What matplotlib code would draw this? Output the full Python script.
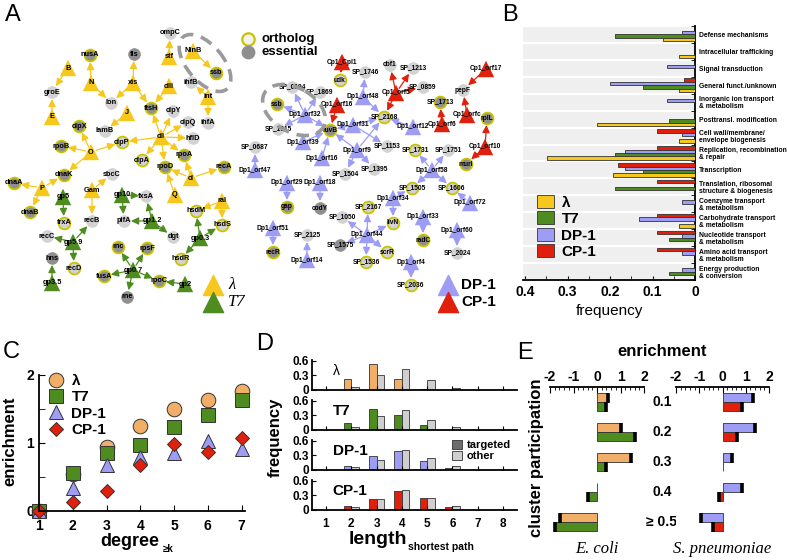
import matplotlib
matplotlib.use('Agg')
import matplotlib.pyplot as plt
from matplotlib.patches import Ellipse, Patch
from matplotlib.ticker import MultipleLocator
from matplotlib.transforms import blended_transform_factory
import numpy as np

plt.rcParams['font.family'] = ['Liberation Sans', 'DejaVu Sans']
plt.rcParams['font.weight'] = 'bold'
plt.rcParams['axes.linewidth'] = 1.3
plt.rcParams['axes.unicode_minus'] = False

W, H = 787, 560
fig = plt.figure(figsize=(7.87, 5.60), dpi=100)


def px_axes(l, t, r, b):
    # axes placed by pixel box of the reference
    return fig.add_axes([l / W, 1 - b / H, (r - l) / W, (b - t) / H])


YEL = '#f6c81e'
GRN = '#4f8c1f'
BLU = '#9d9df5'
RED = '#e0200c'
ORA = '#f0ae68'
LGRAY = '#d2d2d2'
DGRAY = '#8f8f8f'
RIM = '#c9c400'

# ---------------- panel A : interaction networks ----------------
# node: name, x, y, kind  (lam/t7/dp1/cp1 = phage protein, L/D = light/dark host protein, R = ortholog rim)
ecoli_nodes = [
    ('B', 68, 68, 'lam'), ('N', 91, 83, 'lam'), ('xis', 133, 83, 'lam'), ('stf', 169, 57, 'lam'),
    ('NinB', 193, 51, 'lam'), ('cIII', 169, 86, 'lam'), ('int', 208, 97, 'lam'), ('E', 52, 117, 'lam'),
    ('J', 127, 113, 'lam'), ('cII', 161, 137, 'lam'), ('O', 91, 152, 'lam'), ('cI', 191, 178, 'lam'),
    ('Q', 175, 195, 'lam'), ('P', 42, 188, 'lam'), ('Gam', 92, 190, 'lam'), ('ral', 222, 201, 'lam'),
    ('gp5', 63, 197, 't7'), ('gp5.9', 73, 242, 't7'), ('gp3.5', 52, 283, 't7'), ('gp10', 122, 195, 't7'),
    ('gp1.2', 152, 221, 't7'), ('gp0.7', 133, 270, 't7'), ('gp2', 185, 284, 't7'), ('gp0.3', 200, 238, 't7'),
    ('ompC', 170, 33, 'L'), ('fis', 134, 54, 'D'), ('nusA', 90, 55, 'DR'), ('ssb', 216, 73, 'DR'),
    ('groE', 52, 92, 'L'), ('lon', 111, 103, 'L'), ('ihfB', 191, 82, 'L'), ('ftsH', 151, 108, 'DR'),
    ('clpY', 173, 111, 'L'), ('clpQ', 188, 122, 'L'), ('ihfA', 208, 123, 'L'), ('hflD', 193, 138, 'L'),
    ('lamB', 105, 131, 'L'), ('clpX', 79, 126, 'DR'), ('rpoB', 61, 146, 'DR'), ('clpP', 122, 142, 'LR'),
    ('clpA', 142, 160, 'LR'), ('rpoA', 184, 155, 'DR'), ('rpoD', 165, 167, 'DR'), ('recA', 224, 167, 'DR'),
    ('dnaA', 14, 183, 'DR'), ('dnaK', 64, 175, 'DR'), ('dnaB', 30, 212, 'DR'), ('sbcC', 112, 174, 'L'),
    ('recB', 92, 221, 'L'), ('trxA', 64, 223, 'LR'), ('recC', 47, 236, 'L'), ('recD', 74, 268, 'LR'),
    ('hns', 52, 258, 'D'), ('fxsA', 146, 196, 'L'), ('pifA', 124, 221, 'L'), ('dgt', 173, 237, 'L'),
    ('hsdM', 196, 211, 'LR'), ('hsdS', 222, 225, 'LR'), ('hsdR', 181, 259, 'LR'), ('rnc', 118, 247, 'DR'),
    ('rpsF', 147, 248, 'DR'), ('fusA', 104, 276, 'DR'), ('rpoC', 159, 281, 'DR'), ('rne', 127, 297, 'D'),
]
ecoli_edges = [
    ('stf', 'ompC'), ('xis', 'fis'), ('N', 'nusA'), ('NinB', 'ssb'), ('B', 'groE'), ('E', 'groE'),
    ('N', 'lon'), ('xis', 'lon'), ('xis', 'ftsH'), ('cIII', 'ftsH'), ('cII', 'ftsH'), ('int', 'ihfB'),
    ('int', 'ihfA'), ('J', 'lamB'), ('cII', 'clpY'), ('cII', 'clpQ'), ('cII', 'hflD'), ('cII', 'clpP'),
    ('cII', 'clpA'), ('cII', 'rpoD'), ('cII', 'rpoA'), ('O', 'clpX'), ('O', 'rpoB'), ('O', 'clpP'),
    ('O', 'dnaK'), ('cI', 'rpoA'), ('cI', 'rpoD'), ('cI', 'recA'), ('Q', 'rpoD'), ('P', 'dnaK'),
    ('P', 'dnaA'), ('P', 'dnaB'), ('Gam', 'sbcC'), ('Gam', 'recB'), ('gp5', 'trxA'), ('gp5.9', 'recB'),
    ('gp5.9', 'recC'), ('gp5.9', 'recD'), ('gp3.5', 'hns'), ('gp10', 'fxsA'), ('gp10', 'pifA'),
    ('gp1.2', 'pifA'), ('gp1.2', 'fxsA'), ('gp1.2', 'dgt'), ('gp0.3', 'hsdM'), ('gp0.3', 'hsdR'),
    ('gp0.3', 'hsdS'), ('ral', 'hsdM'), ('ral', 'hsdS'), ('gp0.7', 'rnc'), ('gp0.7', 'rpsF'),
    ('gp0.7', 'fusA'), ('gp0.7', 'rpoC'), ('gp0.7', 'rne'), ('gp2', 'rpoC'),
]
spn_nodes = [
    ('Cp1_Cpl1', 342, 62, 'cp1'), ('udk', 340, 80, 'LR'), ('SP_1746', 365, 72, 'L'), ('Dp1_orf48', 363, 97, 'dp1'),
    ('SP_0194', 292, 87, 'L'), ('SP_1869', 320, 92, 'L'), ('ssb', 277, 104, 'DR'), ('Dp1_orf32', 305, 115, 'dp1'),
    ('SP_1915', 278, 129, 'L'), ('Cp1_orf16', 337, 105, 'cp1'), ('ruvB', 330, 130, 'DR'), ('Dp1_orf31', 353, 125, 'dp1'),
    ('SP_2168', 384, 117, 'LR'), ('Dp1_orf39', 303, 142, 'dp1'), ('Dp1_orf16', 322, 158, 'dp1'), ('Dp1_orf9', 357, 150, 'dp1'),
    ('SP_1153', 387, 146, 'L'), ('SP_0687', 255, 147, 'L'), ('Dp1_orf47', 255, 170, 'dp1'), ('SP_1504', 345, 174, 'L'),
    ('SP_1395', 374, 169, 'L'), ('cbf1', 390, 65, 'L'), ('SP_1213', 413, 68, 'L'), ('Cp1_orf5', 396, 93, 'cp1'),
    ('SP_0859', 423, 87, 'L'), ('Cp1_orf17', 486, 69, 'cp1'), ('pepF', 463, 90, 'L'), ('SP_1713', 440, 102, 'DR'),
    ('Cp1_orf6', 442, 124, 'cp1'), ('Cp1_orfc', 467, 115, 'cp1'), ('rplL', 487, 118, 'DR'), ('Cp1_orf10', 485, 147, 'cp1'),
    ('murI', 466, 164, 'DR'), ('Dp1_orf12', 413, 127, 'dp1'), ('SP_1731', 415, 150, 'LR'), ('SP_1751', 448, 150, 'L'),
    ('Dp1_orf58', 432, 170, 'dp1'), ('SP_1505', 412, 188, 'LR'), ('SP_1606', 452, 188, 'LR'), ('Dp1_orf72', 470, 203, 'dp1'),
    ('Dp1_orf29', 287, 183, 'dp1'), ('gap', 287, 207, 'DR'), ('Dp1_orf18', 320, 183, 'dp1'), ('codY', 320, 208, 'D'),
    ('Dp1_orf34', 393, 198, 'dp1'), ('SP_2167', 368, 207, 'LR'), ('livN', 393, 223, 'LR'), ('SP_1050', 342, 217, 'L'),
    ('Dp1_orf44', 367, 235, 'dp1'), ('SP_1575', 340, 245, 'D'), ('SP_1536', 366, 262, 'LR'), ('scrR', 387, 252, 'LR'),
    ('Dp1_orf33', 423, 217, 'dp1'), ('radC', 423, 240, 'DR'), ('Dp1_orf60', 457, 230, 'dp1'), ('SP_2024', 457, 253, 'L'),
    ('Dp1_orf4', 411, 262, 'dp1'), ('SP_2036', 411, 285, 'LR'), ('Dp1_orf51', 273, 228, 'dp1'), ('recR', 273, 252, 'DR'),
    ('SP_2125', 307, 235, 'L'), ('Dp1_orf14', 307, 260, 'dp1'),
]
spn_edges = [
    ('Cp1_Cpl1', 'udk'), ('Dp1_orf48', 'SP_1746'), ('Dp1_orf48', 'SP_2168'), ('Dp1_orf32', 'SP_0194'),
    ('Dp1_orf32', 'SP_1869'), ('Dp1_orf32', 'ssb'), ('Dp1_orf32', 'SP_1915'), ('Dp1_orf32', 'ruvB'),
    ('Cp1_orf16', 'ruvB'), ('Dp1_orf31', 'SP_2168'), ('Dp1_orf31', 'SP_1153'), ('Dp1_orf31', 'ruvB'),
    ('Dp1_orf39', 'ruvB'), ('Dp1_orf16', 'ruvB'), ('Dp1_orf9', 'ruvB'), ('Dp1_orf9', 'SP_2168'),
    ('Dp1_orf9', 'SP_1504'), ('Dp1_orf9', 'SP_1395'), ('Cp1_orf5', 'cbf1'), ('Cp1_orf5', 'SP_1213'),
    ('Cp1_orf5', 'SP_0859'), ('Cp1_orf5', 'SP_2168'), ('Cp1_orf17', 'pepF'), ('Cp1_orfc', 'pepF'),
    ('Cp1_orf6', 'SP_1713'), ('Cp1_orf10', 'rplL'), ('Cp1_orf10', 'murI'), ('Dp1_orf12', 'SP_2168'),
    ('Dp1_orf47', 'SP_0687'), ('Dp1_orf29', 'gap'), ('Dp1_orf18', 'codY'), ('Dp1_orf58', 'SP_1731'),
    ('Dp1_orf58', 'SP_1751'), ('Dp1_orf58', 'SP_1505'), ('Dp1_orf58', 'SP_1606'), ('Dp1_orf72', 'SP_1606'),
    ('Dp1_orf34', 'SP_1505'), ('Dp1_orf34', 'livN'), ('Dp1_orf44', 'SP_2167'), ('Dp1_orf44', 'livN'),
    ('Dp1_orf44', 'SP_1050'), ('Dp1_orf44', 'SP_1575'), ('Dp1_orf44', 'SP_1536'), ('Dp1_orf44', 'scrR'),
    ('Dp1_orf33', 'radC'), ('Dp1_orf60', 'SP_2024'), ('Dp1_orf4', 'SP_2036'), ('Dp1_orf51', 'recR'),
    ('Dp1_orf14', 'SP_2125'),
]
tri_col = {'lam': YEL, 't7': GRN, 'dp1': BLU, 'cp1': RED}

axA = px_axes(0, 0, 525, 310)
axA.set_xlim(0, 525)
axA.set_ylim(310, 0)
axA.axis('off')


def draw_net(nodes, edges, lab_size):
    pos = {n[0]: (n[1], n[2]) for n in nodes}
    kind = {n[0]: n[3] for n in nodes}
    for s, t in edges:
        axA.annotate('', xy=pos[t], xytext=pos[s], zorder=1,
                     arrowprops=dict(arrowstyle='-|>,head_length=0.45,head_width=0.22',
                                     color=tri_col[kind[s]], lw=0.9, shrinkA=4, shrinkB=5))
    for name, x, y, k in nodes:
        if k in tri_col:
            axA.scatter(x, y, marker='^', s=140, c=tri_col[k], edgecolors='none', zorder=2)
        else:
            fill = DGRAY if k.startswith('D') else LGRAY
            rim = k.endswith('R')
            axA.scatter(x, y, s=72, c=fill, edgecolors=RIM if rim else fill,
                        linewidths=1.3 if rim else 0.5, zorder=3)
        axA.text(x, y, name, fontsize=lab_size, ha='center', va='center', zorder=4)


draw_net(ecoli_nodes, ecoli_edges, 5.3)
draw_net(spn_nodes, spn_edges, 4.8)

for cx, cy, w, h, ang in [(205, 63, 68, 36, 50), (294, 110, 68, 44, 30)]:
    axA.add_patch(Ellipse((cx, cy), w, h, angle=ang, fill=False, ec='#9a9a9a', lw=2.6,
                          ls=(0, (3.5, 2.2)), zorder=5))

# legends of panel A
axA.scatter([248], [39], s=80, c='#f2f2f2', edgecolors=RIM, linewidths=1.6, clip_on=False)
axA.scatter([248], [52], s=80, c=DGRAY, edgecolors=DGRAY, clip_on=False)
axA.text(261, 39, 'ortholog', fontsize=9.5, va='center')
axA.text(261, 52, 'essential', fontsize=9.5, va='center')
for yy, col, lab in [(285, YEL, 'λ'), (302, GRN, 'T7')]:
    axA.scatter([213], [yy], marker='^', s=210, c=col, clip_on=False)
    axA.text(228, yy, lab, fontsize=12, family='Liberation Serif', style='italic',
             fontweight='normal', va='center')
for yy, col, lab in [(285, BLU, 'DP-1'), (302, RED, 'CP-1')]:
    axA.scatter([448], [yy], marker='^', s=210, c=col, clip_on=False)
    axA.text(461, yy, lab, fontsize=11, va='center')

# ---------------- panel B : functional categories ----------------
cog_labels = ['Defense mechanisms', 'Intracellular trafficking', 'Signal transduction',
              'General funct./unknown', 'Inorganic ion transport\n& metabolism',
              'Posttransl. modification', 'Cell wall/membrane/\nenvelope biogenesis',
              'Replication, recombination\n& repair', 'Transcription',
              'Translation, ribosomal\nstructure & biogenesis', 'Coenzyme transport\n& metabolism',
              'Carbohydrate transport\n& metabolism', 'Nucleotide transport\n& metabolism',
              'Amino acid transport\n& metabolism', 'Energy production\n& conversion']
cog_lam = [0.076, 0.037, 0, 0.037, 0, 0.23, 0.037, 0.348, 0.193, 0, 0, 0.037, 0, 0, 0]
cog_t7 = [0.1875, 0, 0, 0.123, 0, 0.062, 0, 0.1875, 0.123, 0.1875, 0, 0, 0.062, 0, 0.062]
cog_dp1 = [0.031, 0, 0.065, 0.20, 0.065, 0, 0.031, 0.166, 0.166, 0, 0.031, 0.133, 0.031, 0.031, 0.031]
cog_cp1 = [0, 0, 0, 0.026, 0, 0, 0.09, 0.09, 0.181, 0.09, 0, 0.09, 0.09, 0.09, 0]

axB = px_axes(523, 26, 695, 280)
yc = np.arange(len(cog_labels))
for vals, off, col, lab in [(cog_cp1, -0.3, RED, 'CP-1'), (cog_dp1, -0.1, BLU, 'DP-1'),
                            (cog_t7, 0.1, GRN, 'T7'), (cog_lam, 0.3, YEL, 'λ')]:
    axB.barh(yc + off, vals, height=0.2, color=col, edgecolor='#333333', lw=0.6, label=lab, zorder=3)
axB.set_facecolor('#efefef')
axB.set_ylim(len(cog_labels) - 0.5, -0.5)
axB.set_xlim(0.405, 0)
axB.yaxis.tick_right()
axB.set_yticks(yc)
axB.set_yticklabels(cog_labels, fontsize=4.9, linespacing=1.0)
axB.set_yticks(np.arange(-0.5, len(cog_labels)), minor=True)
axB.grid(which='minor', axis='y', color='white', lw=1.6)
axB.tick_params(axis='y', which='major', length=0, pad=3)
axB.tick_params(axis='y', which='minor', length=3, direction='in', right=True, left=False)
axB.set_xticks([0, 0.1, 0.2, 0.3, 0.4])
axB.set_xticklabels(['0', '0.1', '0.2', '0.3', '0.4'], fontsize=10)
axB.xaxis.set_minor_locator(MultipleLocator(0.05))
axB.tick_params(axis='x', which='both', direction='in', length=3)
for s in ['top', 'left']:
    axB.spines[s].set_visible(False)
axB.set_xlabel('frequency', fontsize=11, labelpad=4)
hB, lB = axB.get_legend_handles_labels()
axB.legend(hB[::-1], lB[::-1], loc='upper left', bbox_to_anchor=(537 / W, 1 - 195 / H),
           bbox_transform=fig.transFigure, frameon=False, fontsize=11, handlelength=1.1,
           handleheight=0.9, labelspacing=0.12, handletextpad=0.5, borderpad=0, borderaxespad=0)

# ---------------- panel C : enrichment vs degree ----------------
degree = [1, 2, 3, 4, 5, 6, 7]
enr_lam = [0, 0.55, 0.94, 1.245, 1.505, 1.637, 1.765]
enr_t7 = [0, 0.56, 0.86, 0.966, 1.235, 1.417, 1.627]
enr_dp1 = [0, 0.343, 0.67, 0.79, 0.853, 1.03, 0.907]
enr_cp1 = [0, 0.13, 0.30, 0.67, 0.98, 0.87, 1.07]

axC = px_axes(39, 375, 245, 511)
for vals, mk, ms, col, lab in [(enr_lam, 'o', 10.5, ORA, 'λ'), (enr_t7, 's', 9.5, GRN, 'T7'),
                               (enr_dp1, '^', 10.5, BLU, 'DP-1'), (enr_cp1, 'D', 7.5, RED, 'CP-1')]:
    axC.plot(degree, vals, ls='none', marker=mk, ms=ms, mfc=col, mec='#333333', mew=0.7,
             clip_on=False, label=lab)
axC.set_xlim(1, 7.1)
axC.set_ylim(0, 2)
axC.set_xticks(degree)
axC.set_yticks([0, 1, 2])
axC.yaxis.set_minor_locator(MultipleLocator(0.5))
axC.tick_params(which='both', direction='in', length=4, labelsize=10)
axC.tick_params(axis='x', pad=6)
for s in ['top', 'right']:
    axC.spines[s].set_visible(False)
axC.legend(loc='upper left', bbox_to_anchor=(47 / W, 1 - 374 / H), bbox_transform=fig.transFigure,
           frameon=False, fontsize=11, handlelength=1.2, labelspacing=0.15, handletextpad=0.4,
           borderpad=0, borderaxespad=0, numpoints=1)
fig.text(10 / W, 1 - 441 / H, 'enrichment', rotation=90, fontsize=12, ha='center', va='center')
fig.text(130 / W, 1 - 541 / H, 'degree', fontsize=13, ha='center', va='center')
fig.text(163 / W, 1 - 549 / H, '≥k', fontsize=7, ha='left', va='center')

# ---------------- panel D : shortest path lengths ----------------
path_len = [1, 2, 3, 4, 5, 6, 7, 8]
sp_targeted = {
    'λ': [0.01, 0.23, 0.53, 0.23, 0.03, 0, 0, 0],
    'T7': [0, 0.14, 0.43, 0.31, 0.10, 0.01, 0, 0],
    'DP-1': [0, 0.087, 0.29, 0.40, 0.19, 0.05, 0, 0],
    'CP-1': [0, 0.09, 0.23, 0.39, 0.25, 0.07, 0, 0],
}
sp_other = {
    'λ': [0, 0.07, 0.30, 0.43, 0.21, 0.05, 0, 0],
    'T7': [0, 0.07, 0.28, 0.41, 0.20, 0.06, 0, 0],
    'DP-1': [0, 0.067, 0.21, 0.41, 0.25, 0.09, 0.01, 0],
    'CP-1': [0, 0.07, 0.22, 0.42, 0.25, 0.085, 0.01, 0],
}
d_cols = {'λ': ORA, 'T7': GRN, 'DP-1': BLU, 'CP-1': RED}
d_bottoms = [390, 430, 470, 510]
x_len = np.array(path_len)
for i, (name, bot) in enumerate(zip(d_cols, d_bottoms)):
    axd = px_axes(312, bot - 30, 517, bot)
    axd.bar(x_len - 0.15, sp_targeted[name], width=0.3, color=d_cols[name], edgecolor='#333333', lw=0.6)
    axd.bar(x_len + 0.15, sp_other[name], width=0.3, color='#cfcfcf', edgecolor='#333333', lw=0.6)
    axd.set_xlim(0.45, 8.55)
    axd.set_ylim(0, 0.62)
    axd.set_yticks([0, 0.3, 0.6])
    axd.set_yticklabels(['0', '0.3', '0.6'])
    axd.set_xticks(path_len)
    axd.tick_params(which='both', direction='in', length=3, labelsize=8.5, pad=2)
    for s in ['top', 'right']:
        axd.spines[s].set_visible(False)
    if i < 3:
        axd.set_xticklabels([])
    else:
        axd.tick_params(axis='x', pad=6)
    axd.text(0.1, 0.62, name, transform=axd.transAxes, fontsize=11 if name != 'λ' else 10,
             fontweight='bold' if name != 'λ' else 'normal', va='center')
    if name == 'DP-1':
        axd.legend(handles=[Patch(fc='#6e6e6e', ec='#333333', lw=0.6), Patch(fc='#cfcfcf', ec='#333333', lw=0.6)],
                   labels=['targeted', 'other'], loc='upper left', bbox_to_anchor=(452 / W, 1 - 440 / H),
                   bbox_transform=fig.transFigure, frameon=False, fontsize=8, handlelength=0.9,
                   handleheight=0.9, labelspacing=0.05, handletextpad=0.4, borderpad=0, borderaxespad=0)
fig.text(275 / W, 1 - 437 / H, 'frequency', rotation=90, fontsize=12, ha='center', va='center')
fig.text(378 / W, 1 - 540 / H, 'length', fontsize=14, ha='center', va='center')
fig.text(408 / W, 1 - 547 / H, 'shortest path', fontsize=7.5, ha='left', va='center')

# ---------------- panel E : cluster participation ----------------
cp_labels = ['0.1', '0.2', '0.3', '0.4', '≥ 0.5']
ecoli_lam = [0.47, 1.0, 1.43, 0, -1.59]
ecoli_t7 = [0.37, 1.6, 0.37, -0.38, -1.8]
spn_dp1 = [1.33, 1.4, 0.4, 0.86, -0.93]
spn_cp1 = [0.83, 0.61, 0, -0.17, -0.43]
rows = np.arange(len(cp_labels))

for l, r, top_vals, bot_vals, ctop, cbot, org in [
        (550, 644, ecoli_lam, ecoli_t7, ORA, GRN, 'E. coli'),
        (676, 769, spn_dp1, spn_cp1, BLU, RED, 'S. pneumoniae')]:
    axe = px_axes(l, 387, r, 537)
    for vals, off, col in [(top_vals, -0.15, ctop), (bot_vals, 0.15, cbot)]:
        axe.barh(rows + off, vals, height=0.3, color=col, edgecolor='#333333', lw=0.6)
        v = np.array(vals)
        nz = v != 0
        axe.plot(v[nz], (rows + off)[nz], ls='none', marker='|', ms=7, mew=2.6, color='black')
    axe.set_xlim(-2, 2)
    axe.set_ylim(4.5, -0.5)
    axe.xaxis.tick_top()
    axe.set_xticks([-2, -1, 0, 1, 2])
    axe.xaxis.set_minor_locator(MultipleLocator(0.2))
    axe.tick_params(axis='x', which='major', direction='in', length=4, labelsize=10, pad=2)
    axe.tick_params(axis='x', which='minor', direction='in', length=2)
    axe.set_yticks([])
    for s in ['bottom', 'left', 'right']:
        axe.spines[s].set_visible(False)
    fig.text((l + r) / 2 / W, 1 - 549 / H, org, fontsize=12, family='Liberation Serif',
             style='italic', fontweight='normal', ha='center', va='center')
    if org == 'E. coli':
        row_tr = blended_transform_factory(fig.transFigure, axe.transData)
        for rw, lab in zip(rows, cp_labels):
            axe.text(662 / W, rw, lab, fontsize=10, ha='center', va='center', transform=row_tr)
fig.text(662 / W, 1 - 352 / H, 'enrichment', fontsize=12, ha='center', va='center')
fig.text(537 / W, 1 - 458 / H, 'cluster participation', rotation=90, fontsize=12,
         ha='center', va='center')

# panel letters
for lab, x, y in [('A', 13, 15), ('B', 510, 15), ('C', 11, 352), ('D', 265, 344), ('E', 525, 353)]:
    fig.text(x / W, 1 - y / H, lab, fontsize=17, fontweight='normal', ha='center', va='center')

fig.savefig('out.png', dpi=100)
